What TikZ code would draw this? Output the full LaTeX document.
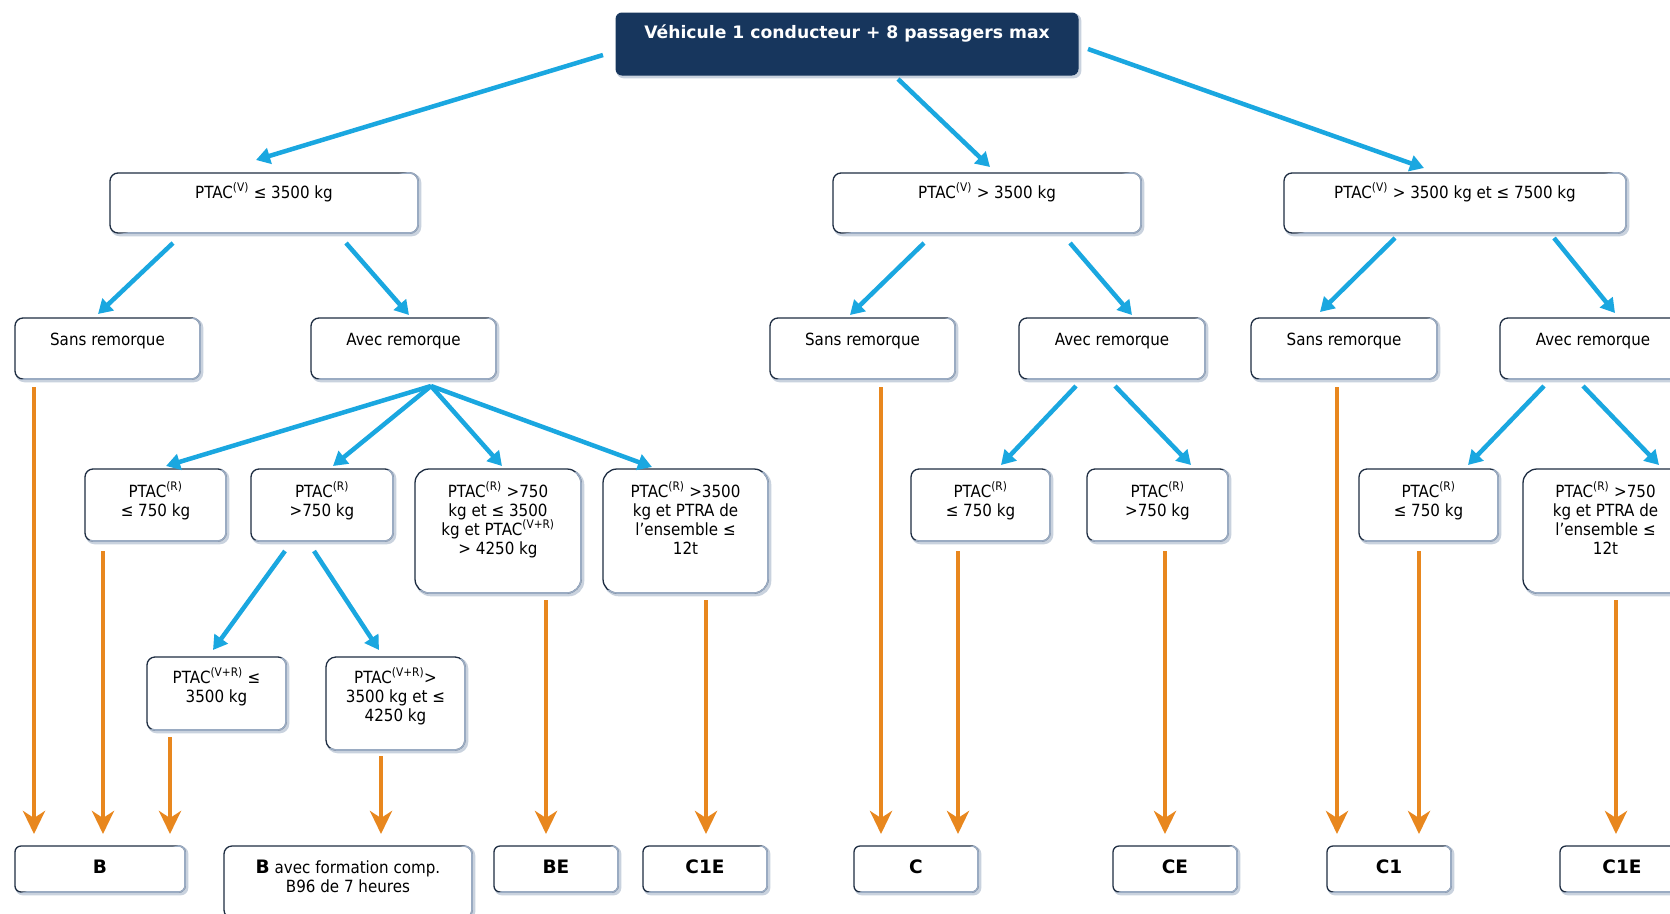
\documentclass[tikz,border=0pt]{standalone}
\usepackage{fontspec}
\setmainfont{DejaVu Sans}[FakeStretch=0.9]
\newfontfamily\bfnt{DejaVu Sans}
\usetikzlibrary{arrows.meta,calc}
\definecolor{navy}{HTML}{17365D}
\definecolor{bdark}{HTML}{1E2D42}
\definecolor{blight}{HTML}{9AABC2}
\definecolor{shad}{HTML}{C9D2DE}
\definecolor{cyanA}{HTML}{1AA7E0}
\definecolor{orangeA}{HTML}{E8871E}
\newcommand\bb[1]{{\bfnt\bfseries\fontsize{18.5}{19}\selectfont #1}}
\tikzset{
  boxst/.style={draw=bdark, line width=1.3pt, fill=white, inner sep=0pt, outer sep=0pt,
    font=\fontsize{16.8}{19}\selectfont,
    preaction={draw=shad, line width=3pt, transform canvas={shift={(1.8pt,-1.8pt)}}}},
  titlest/.style={draw=navy, fill=navy, line width=1pt, rounded corners=6pt, inner sep=0pt, outer sep=0pt,
    text=white, font=\bfnt\bfseries\fontsize{17.2}{20}\selectfont,
    preaction={draw=shad, line width=3pt, transform canvas={shift={(1.8pt,-1.8pt)}}}},
  edgest/.style={draw=blight, line width=1.6pt},
  barrow/.style={draw=cyanA, line width=4.5pt, -{Triangle[length=14pt,width=16pt]}},
  oarrow/.style={draw=orangeA, line width=4pt, -{Stealth[length=23pt,width=22pt,inset=7pt]}}
}
% name, x, y, w, h, radius, baseline, text
\newcommand\mkbox[8]{%
  \node[boxst, rounded corners=#6pt, anchor=north west] (#1) at (#2,#3)
    {\begin{minipage}[t][#5pt][t]{#4pt}\centering\rule{0pt}{#7pt}#8\end{minipage}};
  \begin{scope}
    \clip ([shift={(-4,4)}]#1.south west) -- ([shift={(4,4)}]#1.south east) -- ([shift={(4,-4)}]#1.north east) -- cycle;
    \draw[edgest, rounded corners=#6pt] (#1.south west) rectangle (#1.north east);
  \end{scope}}
\begin{document}
\begin{tikzpicture}[x=1pt,y=-1pt]
\useasboundingbox (0,0) rectangle (1670,913);
\fill[white] (0,0) rectangle (1670,913);
\clip (0,0) rectangle (1670,913);

% title
\node[titlest, anchor=north west] (top) at (616,13)
  {\begin{minipage}[t][62pt][t]{462pt}\centering\rule{0pt}{25pt}Véhicule 1 conducteur + 8 passagers max\end{minipage}};

% level 1
\mkbox{L1a}{110}{173}{308}{60}{8}{25}{PTAC\textsuperscript{(V)} ≤ 3500 kg}
\mkbox{L1b}{833}{173}{308}{60}{8}{25}{PTAC\textsuperscript{(V)} > 3500 kg}
\mkbox{L1c}{1284}{173}{342}{60}{8}{25}{PTAC\textsuperscript{(V)} > 3500 kg et ≤ 7500 kg}

% level 2
\mkbox{S1}{15}{318}{185}{61}{8}{27}{Sans remorque}
\mkbox{A1}{311}{318}{185}{61}{8}{27}{Avec remorque}
\mkbox{S2}{770}{318}{185}{61}{8}{27}{Sans remorque}
\mkbox{A2}{1019}{318}{186}{61}{8}{27}{Avec remorque}
\mkbox{S3}{1251}{318}{186}{61}{8}{27}{Sans remorque}
\mkbox{A3}{1500}{318}{186}{61}{8}{27}{Avec remorque}

% level 3
\mkbox{P1}{85}{469}{141}{72}{8}{28}{PTAC\textsuperscript{(R)}\\≤ 750 kg}
\mkbox{P2}{251}{469}{142}{72}{8}{28}{PTAC\textsuperscript{(R)}\\>750 kg}
\mkbox{P3}{415}{469}{166}{124}{14}{28}{PTAC\textsuperscript{(R)} >750\\kg et ≤ 3500\\kg et PTAC\textsuperscript{(V+R)}\\> 4250 kg}
\mkbox{P4}{603}{469}{165}{124}{14}{28}{PTAC\textsuperscript{(R)} >3500\\kg et PTRA de\\l’ensemble ≤\\12t}
\mkbox{Q1}{911}{469}{139}{72}{8}{28}{PTAC\textsuperscript{(R)}\\≤ 750 kg}
\mkbox{Q2}{1087}{469}{141}{72}{8}{28}{PTAC\textsuperscript{(R)}\\>750 kg}
\mkbox{R1}{1359}{469}{139}{72}{8}{28}{PTAC\textsuperscript{(R)}\\≤ 750 kg}
\mkbox{R2}{1523}{469}{165}{124}{14}{28}{PTAC\textsuperscript{(R)} >750\\kg et PTRA de\\l’ensemble ≤\\12t}

% level 4
\mkbox{T1}{147}{657}{139}{73}{8}{26}{PTAC\textsuperscript{(V+R)} ≤\\3500 kg}
\mkbox{T2}{326}{657}{139}{93}{10}{26}{PTAC\textsuperscript{(V+R)}>\\3500 kg et ≤\\4250 kg}

% results
\mkbox{B}{15}{846}{170}{46}{6}{27}{\bb{B}}
\mkbox{Bfc}{224}{846}{248}{72}{8}{27}{\bb{B} avec formation comp.\\B96 de 7 heures}
\mkbox{BE}{494}{846}{124}{46}{6}{27}{\bb{BE}}
\mkbox{C1E}{643}{846}{124}{46}{6}{27}{\bb{C1E}}
\mkbox{C}{854}{846}{124}{46}{6}{27}{\bb{C}}
\mkbox{CE}{1113}{846}{124}{46}{6}{27}{\bb{CE}}
\mkbox{C1}{1327}{846}{124}{46}{6}{27}{\bb{C1}}
\mkbox{C1Eb}{1560}{846}{124}{46}{6}{27}{\bb{C1E}}

% blue connectors
\draw[barrow] ([shift={(-13,11)}]top.west) -- ([shift={(-8,-13)}]L1a.north);
\draw[barrow] ([shift={(51,4)}]top.south) -- ([shift={(3,-6)}]L1b.north);
\draw[barrow] ([shift={(10,5)}]top.east) -- ([shift={(-31,-5)}]L1c.north);
\draw[barrow] ([shift={(-91,10)}]L1a.south) -- ([shift={(-9.5,-4)}]S1.north);
\draw[barrow] ([shift={(82,10)}]L1a.south) -- ([shift={(5.5,-3)}]A1.north);
\draw[barrow] ([shift={(-63,10)}]L1b.south) -- ([shift={(-12.5,-3)}]S2.north);
\draw[barrow] ([shift={(83,10)}]L1b.south) -- ([shift={(20,-3)}]A2.north);
\draw[barrow] ([shift={(-60,5)}]L1c.south) -- ([shift={(-24,-6)}]S3.north);
\draw[barrow] ([shift={(99,5)}]L1c.south) -- ([shift={(22,-5)}]A3.north);
\coordinate (fa) at ([shift={(27.5,7)}]A1.south);
\draw[barrow] (fa) -- ([shift={(10.5,-3)}]P1.north);
\draw[barrow] (fa) -- ([shift={(11,-3)}]P2.north);
\draw[barrow] (fa) -- ([shift={(4,-3)}]P3.north);
\draw[barrow] (fa) -- ([shift={(-33.5,-2)}]P4.north);
\draw[barrow] ([shift={(-37,10)}]P2.south) -- ([shift={(-3.5,-7)}]T1.north);
\draw[barrow] ([shift={(-8,10)}]P2.south) -- ([shift={(-16.5,-7)}]T2.north);
\draw[barrow] ([shift={(-36,7)}]A2.south) -- ([shift={(20.5,-4)}]Q1.north);
\draw[barrow] ([shift={(3,7)}]A2.south) -- ([shift={(33.5,-4)}]Q2.north);
\draw[barrow] ([shift={(-49,7)}]A3.south) -- ([shift={(39.5,-4)}]R1.north);
\draw[barrow] ([shift={(-10,7)}]A3.south) -- ([shift={(53.5,-4)}]R2.north);

% orange connectors
\coordinate (o1) at ([shift={(19,8)}]S1.south west);
\draw[oarrow] (o1) -- ($(o1 |- B.north)+(0,-12)$);
\coordinate (o2) at ([shift={(18,10)}]P1.south west);
\draw[oarrow] (o2) -- ($(o2 |- B.north)+(0,-12)$);
\coordinate (o3) at ([shift={(23,7)}]T1.south west);
\draw[oarrow] (o3) -- ($(o3 |- B.north)+(0,-12)$);
\coordinate (o4) at ([shift={(55,6)}]T2.south west);
\draw[oarrow] (o4) -- ($(o4 |- Bfc.north)+(0,-12)$);
\coordinate (o5) at ([shift={(131,7)}]P3.south west);
\draw[oarrow] (o5) -- ($(o5 |- BE.north)+(0,-12)$);
\coordinate (o6) at ([shift={(103,7)}]P4.south west);
\draw[oarrow] (o6) -- ($(o6 |- C1E.north)+(0,-12)$);
\coordinate (o7) at ([shift={(111,8)}]S2.south west);
\draw[oarrow] (o7) -- ($(o7 |- C.north)+(0,-12)$);
\coordinate (o8) at ([shift={(47,10)}]Q1.south west);
\draw[oarrow] (o8) -- ($(o8 |- C.north)+(0,-12)$);
\coordinate (o9) at ([shift={(78,10)}]Q2.south west);
\draw[oarrow] (o9) -- ($(o9 |- CE.north)+(0,-12)$);
\coordinate (o10) at ([shift={(86,8)}]S3.south west);
\draw[oarrow] (o10) -- ($(o10 |- C1.north)+(0,-12)$);
\coordinate (o11) at ([shift={(60,10)}]R1.south west);
\draw[oarrow] (o11) -- ($(o11 |- C1.north)+(0,-12)$);
\coordinate (o12) at ([shift={(93,7)}]R2.south west);
\draw[oarrow] (o12) -- ($(o12 |- C1Eb.north)+(0,-12)$);
\end{tikzpicture}
\end{document}
